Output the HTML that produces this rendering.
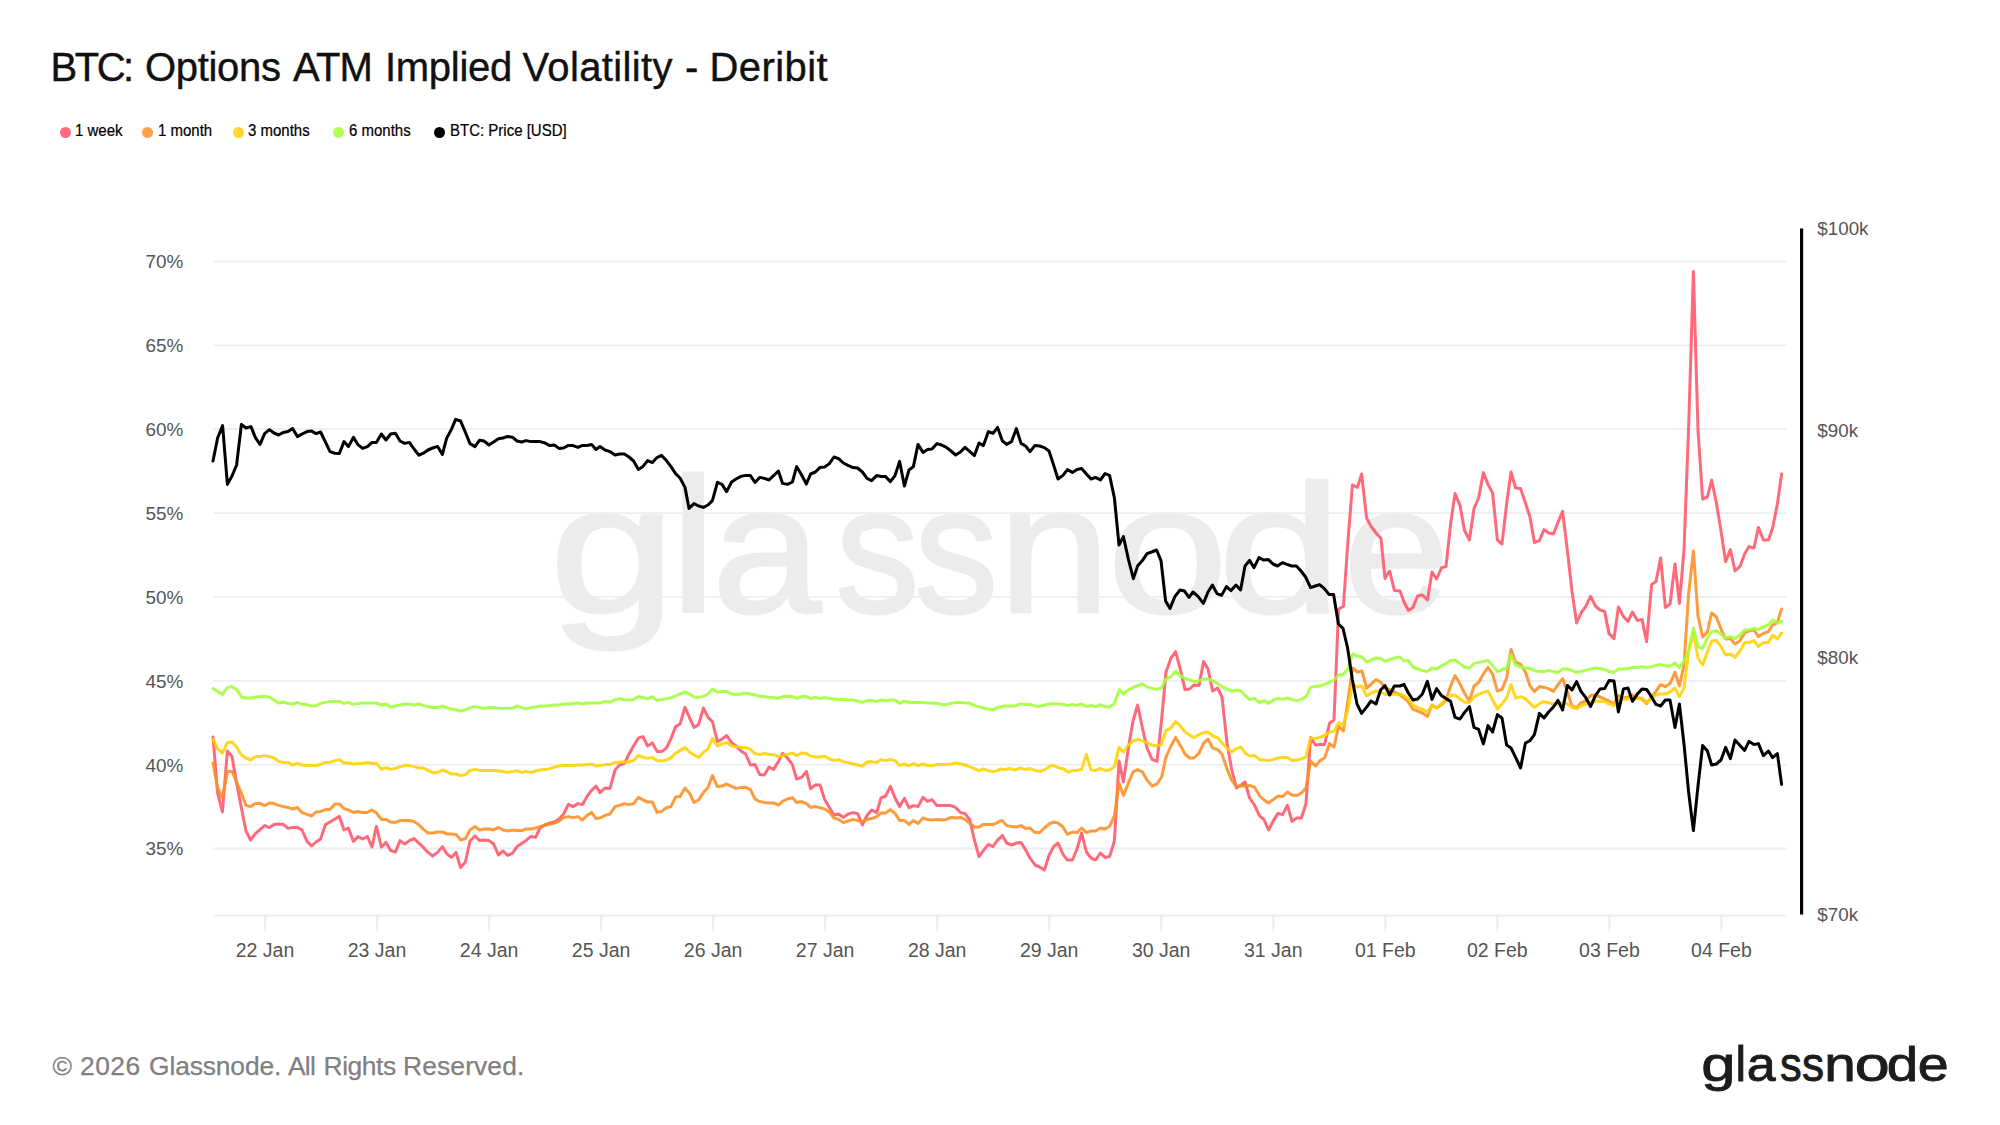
<!DOCTYPE html>
<html lang="en"><head><meta charset="utf-8"><title>BTC: Options ATM Implied Volatility - Deribit</title>
<style>
html,body{margin:0;padding:0;background:#fff;}
body{width:2000px;height:1125px;position:relative;overflow:hidden;font-family:"Liberation Sans",sans-serif;}
.title{position:absolute;left:50px;top:42.8px;-webkit-text-stroke:0.4px #111;font-size:40px;line-height:48px;color:#111;white-space:nowrap;letter-spacing:0px;}
.title span{position:absolute;top:0;}
.foot span{position:absolute;top:0;}
.dot{position:absolute;top:127.1px;width:10.8px;height:10.8px;margin-left:-0.3px;border-radius:50%;}
.lt{position:absolute;top:122px;-webkit-text-stroke:0.2px #000;transform:scaleY(1.13);transform-origin:0 100%;font-size:15px;line-height:20px;color:#000;white-space:nowrap;}
.chart{position:absolute;left:0;top:0;}
.ax{font-family:"Liberation Sans",sans-serif;font-size:19.5px;fill:#555;}
.ay{font-size:18.9px;}
.ar{font-size:18.8px;}
.wmg{opacity:0.07;}
.wmk{font-family:"Liberation Sans",sans-serif;font-size:187px;fill:#000;stroke:#000;stroke-width:3px;stroke-linejoin:round;}
.lg{font-family:"Liberation Sans",sans-serif;font-size:49px;fill:#1c1c1c;stroke:#1c1c1c;stroke-width:0.9px;stroke-linejoin:round;}
.foot{position:absolute;left:52px;top:1050px;-webkit-text-stroke:0.25px #808080;font-size:26.4px;line-height:32px;color:#808080;white-space:nowrap;}
</style></head><body>
<div class="title"><span style="left:0.6px;letter-spacing:-2.53px">BTC:</span> <span style="left:95.0px;letter-spacing:-0.31px">Options</span> <span style="left:243.0px;letter-spacing:-0.82px">ATM</span> <span style="left:335.0px;letter-spacing:-0.28px">Implied</span> <span style="left:472.5px;letter-spacing:0.36px">Volatility</span> <span style="left:635.0px;letter-spacing:0px">-</span> <span style="left:659.5px;letter-spacing:0.42px">Deribit</span></div>
<span class="dot" style="left:60.0px;background:#ff6b7c"></span><span class="lt" style="left:75px">1 week</span><span class="dot" style="left:142.5px;background:#ffa04d"></span><span class="lt" style="left:158px">1 month</span><span class="dot" style="left:233.5px;background:#ffd632"></span><span class="lt" style="left:248px">3 months</span><span class="dot" style="left:333.5px;background:#afff55"></span><span class="lt" style="left:349px">6 months</span><span class="dot" style="left:434.5px;background:#000"></span><span class="lt" style="left:450px">BTC: Price [USD]</span>
<svg class="chart" width="2000" height="1125" viewBox="0 0 2000 1125">
<g class="wmg"><text aria-label="glassnode" class="wmk" transform="matrix(1 0 0 0.9750 0 15.290)" y="611.60"><tspan x="549.48" textLength="126.14" lengthAdjust="spacingAndGlyphs">g</tspan><tspan font-size="195.4" x="670.01" textLength="46.13" lengthAdjust="spacingAndGlyphs">l</tspan><tspan x="711.92" textLength="109.08" lengthAdjust="spacingAndGlyphs">a</tspan><tspan x="835.57" textLength="84.00" lengthAdjust="spacingAndGlyphs">s</tspan><tspan x="914.32" textLength="84.00" lengthAdjust="spacingAndGlyphs">s</tspan><tspan x="998.10" textLength="112.26" lengthAdjust="spacingAndGlyphs">n</tspan><tspan x="1107.43" textLength="120.14" lengthAdjust="spacingAndGlyphs">o</tspan><tspan x="1218.19" textLength="123.36" lengthAdjust="spacingAndGlyphs">d</tspan><tspan x="1343.40" textLength="106.08" lengthAdjust="spacingAndGlyphs">e</tspan></text></g>
<line x1="213.3" x2="1786.6" y1="261.5" y2="261.5" stroke="#edeef3" stroke-width="1.8"/>
<line x1="213.3" x2="1786.6" y1="345.4" y2="345.4" stroke="#edeef3" stroke-width="1.8"/>
<line x1="213.3" x2="1786.6" y1="429.2" y2="429.2" stroke="#edeef3" stroke-width="1.8"/>
<line x1="213.3" x2="1786.6" y1="513.1" y2="513.1" stroke="#edeef3" stroke-width="1.8"/>
<line x1="213.3" x2="1786.6" y1="596.9" y2="596.9" stroke="#edeef3" stroke-width="1.8"/>
<line x1="213.3" x2="1786.6" y1="680.8" y2="680.8" stroke="#edeef3" stroke-width="1.8"/>
<line x1="213.3" x2="1786.6" y1="764.7" y2="764.7" stroke="#edeef3" stroke-width="1.8"/>
<line x1="213.3" x2="1786.6" y1="848.5" y2="848.5" stroke="#edeef3" stroke-width="1.8"/>
<line x1="213.3" x2="1786.6" y1="915.6" y2="915.6" stroke="#ebecf2" stroke-width="1.8"/>
<line x1="265.0" x2="265.0" y1="915.6" y2="931.4" stroke="#ebecf2" stroke-width="1.8"/>
<line x1="377.0" x2="377.0" y1="915.6" y2="931.4" stroke="#ebecf2" stroke-width="1.8"/>
<line x1="489.1" x2="489.1" y1="915.6" y2="931.4" stroke="#ebecf2" stroke-width="1.8"/>
<line x1="601.1" x2="601.1" y1="915.6" y2="931.4" stroke="#ebecf2" stroke-width="1.8"/>
<line x1="713.1" x2="713.1" y1="915.6" y2="931.4" stroke="#ebecf2" stroke-width="1.8"/>
<line x1="825.1" x2="825.1" y1="915.6" y2="931.4" stroke="#ebecf2" stroke-width="1.8"/>
<line x1="937.2" x2="937.2" y1="915.6" y2="931.4" stroke="#ebecf2" stroke-width="1.8"/>
<line x1="1049.2" x2="1049.2" y1="915.6" y2="931.4" stroke="#ebecf2" stroke-width="1.8"/>
<line x1="1161.2" x2="1161.2" y1="915.6" y2="931.4" stroke="#ebecf2" stroke-width="1.8"/>
<line x1="1273.3" x2="1273.3" y1="915.6" y2="931.4" stroke="#ebecf2" stroke-width="1.8"/>
<line x1="1385.3" x2="1385.3" y1="915.6" y2="931.4" stroke="#ebecf2" stroke-width="1.8"/>
<line x1="1497.3" x2="1497.3" y1="915.6" y2="931.4" stroke="#ebecf2" stroke-width="1.8"/>
<line x1="1609.4" x2="1609.4" y1="915.6" y2="931.4" stroke="#ebecf2" stroke-width="1.8"/>
<line x1="1721.4" x2="1721.4" y1="915.6" y2="931.4" stroke="#ebecf2" stroke-width="1.8"/>
<path d="M213.0 737.0 L217.6 793.0 L222.4 812.0 L227.4 751.0 L232.0 756.6 L236.6 783.0 L241.4 808.0 L246.0 831.0 L250.6 840.0 L255.4 833.6 L260.0 829.6 L264.6 825.6 L269.4 827.6 L274.0 824.4 L278.6 824.0 L283.4 824.4 L288.0 828.4 L292.6 827.4 L297.4 827.4 L302.0 830.0 L307.0 841.4 L311.6 846.0 L316.0 842.0 L320.6 839.0 L325.4 824.6 L330.0 822.0 L335.0 819.0 L339.4 816.4 L344.0 830.0 L348.4 828.0 L353.4 841.4 L358.0 836.6 L362.6 839.0 L367.4 836.6 L372.0 847.0 L376.4 826.4 L381.4 847.0 L386.0 842.4 L390.6 850.4 L395.4 852.0 L400.0 840.6 L404.6 844.0 L409.4 840.6 L414.0 838.6 L419.0 843.4 L423.4 847.4 L428.0 852.4 L432.6 856.0 L437.6 852.4 L442.4 846.6 L447.0 854.0 L451.4 857.4 L456.0 852.4 L460.6 867.6 L465.4 862.0 L470.0 841.0 L475.0 836.0 L479.6 840.6 L484.0 840.0 L489.0 840.6 L493.6 844.0 L498.4 855.0 L503.0 851.0 L507.6 855.4 L512.4 853.4 L517.0 846.6 L521.6 843.4 L526.0 840.4 L531.0 836.4 L535.6 837.4 L540.0 828.0 L545.0 825.0 L549.6 823.0 L554.4 822.0 L559.0 819.0 L563.6 814.0 L568.4 804.4 L573.0 806.6 L578.0 803.6 L582.4 804.6 L587.0 796.4 L591.6 790.4 L596.0 786.0 L600.0 792.6 L605.0 788.0 L610.0 788.4 L615.0 770.0 L619.6 765.0 L624.4 763.4 L629.0 754.0 L633.6 746.0 L638.4 738.0 L643.0 736.6 L647.6 746.0 L652.4 743.0 L657.0 751.4 L661.6 751.6 L666.4 748.0 L671.0 738.6 L675.6 726.6 L680.0 724.0 L685.0 707.4 L689.6 718.0 L694.0 727.4 L698.6 724.4 L703.4 708.0 L708.0 717.4 L712.4 721.6 L717.4 741.6 L722.0 739.0 L726.6 735.6 L731.6 742.6 L736.0 746.0 L741.0 751.0 L745.6 754.0 L750.4 765.0 L755.0 764.6 L759.6 774.4 L764.4 775.0 L769.0 767.0 L773.6 769.4 L778.4 761.6 L782.6 753.4 L787.4 758.0 L792.4 764.6 L796.6 779.0 L801.6 777.4 L806.4 771.4 L810.6 788.6 L815.4 785.0 L820.0 785.0 L824.6 799.4 L829.4 807.4 L834.0 815.0 L838.6 814.0 L843.4 817.4 L848.0 814.0 L853.0 812.6 L857.6 813.6 L862.4 825.0 L867.0 815.4 L871.6 810.0 L876.6 812.6 L881.0 798.0 L885.6 796.0 L890.4 786.4 L895.0 798.0 L899.6 806.6 L904.4 798.4 L909.0 807.6 L913.4 805.6 L918.0 806.6 L923.0 797.4 L927.6 801.4 L932.0 799.6 L937.0 805.6 L941.6 805.6 L946.4 805.6 L951.0 805.6 L955.6 807.4 L960.4 812.6 L965.0 813.6 L969.6 819.4 L974.4 840.0 L979.0 856.6 L983.4 850.6 L988.4 844.4 L993.0 846.6 L997.6 840.0 L1000.0 838.0 L1002.4 835.4 L1006.6 843.0 L1011.6 845.0 L1016.4 843.0 L1021.0 842.4 L1025.6 850.0 L1030.0 858.0 L1035.0 865.0 L1039.6 867.0 L1044.4 870.0 L1049.0 855.4 L1053.6 846.6 L1058.0 843.0 L1063.0 854.4 L1067.4 860.0 L1072.4 860.0 L1077.0 849.0 L1081.6 833.0 L1086.4 852.0 L1091.0 858.0 L1095.6 860.0 L1100.4 853.0 L1105.0 857.4 L1109.6 856.6 L1114.4 841.0 L1119.0 761.0 L1123.4 782.0 L1128.4 748.0 L1133.0 721.0 L1137.6 705.0 L1142.4 728.0 L1147.0 748.0 L1152.0 759.4 L1157.0 761.4 L1161.6 720.0 L1166.0 672.0 L1171.0 658.0 L1175.6 651.6 L1180.0 668.0 L1185.0 689.6 L1189.6 689.0 L1194.0 685.0 L1199.0 685.4 L1203.6 661.4 L1208.0 669.0 L1212.6 691.0 L1217.6 688.0 L1222.0 697.0 L1227.0 743.0 L1231.6 769.0 L1236.4 788.0 L1241.0 785.0 L1245.0 782.0 L1249.6 798.0 L1254.4 805.0 L1259.4 815.6 L1264.0 819.6 L1268.6 830.0 L1273.4 820.6 L1278.0 813.4 L1282.6 814.6 L1287.4 805.4 L1292.0 821.4 L1296.6 818.0 L1301.4 818.0 L1306.0 803.4 L1310.6 737.4 L1315.4 745.0 L1320.0 744.4 L1324.6 744.4 L1329.6 723.0 L1334.0 720.0 L1338.6 609.0 L1343.4 606.5 L1347.6 546.0 L1352.4 485.0 L1357.4 487.4 L1361.6 474.0 L1366.6 518.0 L1371.4 527.0 L1376.0 533.0 L1381.0 538.6 L1385.0 578.4 L1389.6 571.0 L1394.4 590.6 L1400.0 591.0 L1404.0 602.0 L1408.4 610.4 L1413.0 607.4 L1417.6 596.0 L1422.4 595.0 L1427.4 600.0 L1432.0 572.0 L1436.6 579.0 L1441.4 568.0 L1446.0 566.4 L1450.6 524.0 L1455.0 493.6 L1460.0 505.4 L1464.4 530.0 L1469.4 540.0 L1474.0 508.6 L1478.6 498.0 L1483.4 472.6 L1488.0 484.4 L1492.6 493.0 L1497.4 540.0 L1502.0 544.0 L1506.6 504.0 L1511.0 472.0 L1515.6 488.0 L1520.6 488.6 L1525.4 503.0 L1530.0 517.0 L1534.4 542.6 L1539.4 540.6 L1544.0 529.6 L1548.6 533.0 L1553.4 534.0 L1558.0 522.4 L1562.6 511.4 L1567.4 550.6 L1572.0 591.4 L1576.6 623.0 L1581.0 613.0 L1585.6 606.6 L1590.6 596.4 L1595.4 606.0 L1600.0 610.0 L1604.6 611.4 L1609.0 633.6 L1614.0 638.6 L1618.4 607.0 L1623.4 616.4 L1628.0 621.4 L1632.4 612.0 L1637.4 620.6 L1642.0 619.4 L1646.6 641.6 L1651.6 584.4 L1656.0 581.6 L1660.6 558.0 L1665.4 607.6 L1670.0 604.0 L1675.0 564.0 L1679.4 603.4 L1684.0 550.0 L1688.7 425.0 L1693.4 271.6 L1698.0 430.0 L1702.6 499.0 L1707.4 497.0 L1711.6 480.0 L1716.4 503.0 L1721.0 531.0 L1725.6 561.6 L1730.4 549.6 L1735.0 571.0 L1740.0 566.4 L1744.6 554.0 L1749.0 546.6 L1754.0 548.0 L1758.4 527.4 L1763.4 540.0 L1768.4 540.0 L1772.6 528.0 L1777.4 504.0 L1781.6 474.0" fill="none" stroke="#ff5468" stroke-width="3" stroke-linejoin="round" stroke-linecap="round" stroke-opacity="0.88"/>
<path d="M213.0 763.0 L217.6 788.0 L222.4 798.0 L227.4 771.4 L232.0 771.4 L236.6 782.0 L241.4 793.0 L246.0 805.4 L250.6 806.6 L255.4 803.4 L260.0 803.4 L264.6 805.6 L269.4 803.0 L274.0 803.6 L278.6 805.4 L283.4 806.6 L288.0 807.4 L292.6 809.0 L297.4 807.4 L302.0 812.6 L307.0 814.4 L311.6 816.0 L316.0 812.0 L320.6 811.4 L325.4 809.6 L330.0 809.6 L335.0 804.0 L339.4 804.0 L344.0 808.6 L348.4 810.0 L353.4 812.4 L358.0 811.6 L362.6 812.4 L367.4 812.4 L372.0 810.0 L376.4 813.0 L381.4 819.4 L386.0 819.4 L390.6 822.0 L395.4 822.4 L400.0 820.6 L404.6 820.6 L409.4 820.6 L414.0 821.4 L419.0 825.0 L423.4 829.4 L428.0 833.0 L432.6 833.0 L437.6 832.0 L442.4 832.0 L447.0 834.0 L451.4 834.0 L456.0 834.4 L460.6 840.0 L465.4 838.6 L470.0 830.0 L475.0 826.6 L479.6 830.0 L484.0 829.0 L489.0 829.0 L493.6 830.0 L498.4 827.4 L503.0 830.0 L507.6 831.0 L512.4 830.0 L517.0 830.6 L521.6 830.6 L526.0 829.0 L531.0 829.0 L535.6 828.0 L540.0 826.6 L545.0 825.0 L549.6 824.0 L554.4 823.0 L559.0 821.0 L563.6 817.6 L568.4 816.6 L573.0 817.6 L578.0 816.6 L582.4 820.0 L587.0 815.4 L591.6 812.4 L596.0 818.6 L600.0 818.0 L605.0 815.4 L610.0 814.0 L615.0 806.6 L619.6 805.4 L624.4 803.6 L629.0 804.6 L633.6 803.6 L638.4 797.4 L643.0 800.0 L647.6 802.0 L652.4 802.0 L657.0 812.4 L661.6 811.4 L666.4 807.6 L671.0 806.6 L675.6 797.0 L680.0 796.6 L685.0 788.0 L689.6 793.4 L694.0 802.4 L698.6 800.0 L703.4 792.6 L708.0 787.4 L712.4 775.6 L717.4 786.6 L722.0 786.0 L726.6 784.0 L731.6 786.4 L736.0 788.4 L741.0 787.4 L745.6 787.4 L750.4 789.6 L755.0 799.0 L759.6 801.6 L764.4 802.4 L769.0 803.0 L773.6 803.0 L778.4 805.0 L782.6 801.4 L787.4 799.0 L792.4 797.6 L796.6 802.4 L801.6 801.6 L806.4 803.6 L810.6 807.4 L815.4 806.6 L820.0 807.6 L824.6 809.0 L829.4 812.0 L834.0 818.0 L838.6 819.4 L843.4 822.6 L848.0 821.0 L853.0 819.4 L857.6 820.6 L862.4 821.6 L867.0 819.4 L871.6 818.6 L876.6 816.6 L881.0 813.0 L885.6 813.0 L890.4 809.6 L895.0 813.4 L899.6 820.4 L904.4 820.6 L909.0 824.4 L913.4 820.6 L918.0 823.4 L923.0 818.0 L927.6 819.6 L932.0 820.0 L937.0 819.4 L941.6 820.0 L946.4 819.4 L951.0 817.4 L955.6 818.0 L960.4 817.4 L965.0 819.4 L969.6 823.4 L974.4 827.0 L979.0 827.0 L983.4 824.4 L988.4 824.4 L993.0 824.4 L997.6 822.6 L1000.0 821.0 L1002.4 820.6 L1006.6 825.6 L1011.6 826.6 L1016.4 827.0 L1021.0 825.6 L1025.6 828.4 L1030.0 828.0 L1035.0 832.6 L1039.6 832.6 L1044.4 828.0 L1049.0 824.0 L1053.6 822.0 L1058.0 823.0 L1063.0 827.0 L1067.4 834.4 L1072.4 832.0 L1077.0 832.6 L1081.6 828.0 L1086.4 832.6 L1091.0 831.0 L1095.6 831.0 L1100.4 828.0 L1105.0 829.0 L1109.6 826.4 L1114.4 816.0 L1119.0 783.0 L1123.4 795.6 L1128.4 783.0 L1133.0 772.0 L1137.6 769.6 L1142.4 772.0 L1147.0 780.0 L1152.0 786.0 L1157.0 784.0 L1161.6 777.0 L1166.0 757.0 L1171.0 746.0 L1175.6 737.4 L1180.0 745.0 L1185.0 754.0 L1189.6 758.0 L1194.0 758.0 L1199.0 753.0 L1203.6 743.4 L1208.0 739.0 L1212.6 748.0 L1217.6 749.6 L1222.0 754.0 L1227.0 769.0 L1231.6 780.0 L1236.4 786.6 L1241.0 786.0 L1245.6 786.0 L1250.0 785.6 L1254.4 787.0 L1259.4 795.6 L1264.0 800.0 L1268.6 803.0 L1273.4 799.4 L1278.0 796.0 L1282.6 796.6 L1287.4 792.0 L1292.0 795.0 L1296.6 795.6 L1301.4 793.0 L1306.0 788.0 L1310.6 761.0 L1315.4 766.0 L1320.0 760.6 L1324.6 758.0 L1329.6 743.6 L1334.0 747.0 L1338.6 726.0 L1343.4 731.0 L1348.0 700.0 L1352.6 668.0 L1357.4 672.0 L1362.0 671.0 L1366.6 688.0 L1371.4 684.0 L1376.0 679.6 L1380.6 682.0 L1385.4 688.0 L1390.0 690.0 L1394.6 692.0 L1400.0 695.0 L1404.0 698.0 L1408.4 702.0 L1413.0 709.4 L1417.6 711.0 L1422.4 713.0 L1427.4 716.4 L1432.0 705.0 L1436.6 708.0 L1441.4 705.0 L1446.0 700.0 L1450.6 686.0 L1455.0 675.6 L1460.0 684.0 L1464.4 693.0 L1469.4 701.0 L1474.0 686.0 L1478.6 682.4 L1483.4 674.0 L1488.0 667.4 L1492.6 674.0 L1497.4 691.0 L1502.0 689.4 L1506.6 678.0 L1511.0 649.6 L1515.6 662.0 L1520.6 664.4 L1525.4 672.0 L1530.0 686.0 L1534.4 691.6 L1539.4 686.6 L1544.0 687.4 L1548.6 688.6 L1553.4 691.4 L1558.0 684.6 L1562.6 678.6 L1567.4 692.0 L1572.0 706.0 L1576.6 708.0 L1581.0 702.6 L1585.6 701.0 L1590.6 695.6 L1595.4 695.0 L1600.0 697.0 L1604.6 699.0 L1609.0 701.0 L1614.0 704.0 L1618.4 695.6 L1623.4 698.0 L1628.0 697.0 L1632.4 695.0 L1637.4 697.6 L1642.0 699.0 L1646.6 703.6 L1651.6 697.0 L1656.0 691.4 L1660.6 684.6 L1665.4 686.6 L1670.0 683.6 L1675.0 672.4 L1679.4 686.0 L1684.0 665.0 L1688.6 594.0 L1693.4 551.0 L1698.0 616.0 L1702.6 637.0 L1707.4 632.0 L1711.6 613.0 L1716.4 617.0 L1721.0 629.0 L1725.6 639.0 L1730.4 638.6 L1735.0 644.0 L1740.0 640.6 L1744.6 633.0 L1749.0 631.0 L1754.0 630.0 L1758.4 636.6 L1763.4 633.4 L1768.4 631.6 L1772.6 625.0 L1777.4 622.4 L1781.6 609.0" fill="none" stroke="#ff8d21" stroke-width="3" stroke-linejoin="round" stroke-linecap="round" stroke-opacity="0.88"/>
<path d="M213.0 739.0 L217.6 749.0 L222.4 753.0 L227.4 742.4 L232.0 742.0 L236.6 747.0 L241.4 755.0 L246.0 758.0 L250.6 760.0 L255.4 756.6 L260.0 756.6 L264.6 755.6 L269.4 756.6 L274.0 758.0 L278.6 761.4 L283.4 762.4 L288.0 762.4 L292.6 765.0 L297.4 763.4 L302.0 765.0 L307.0 765.6 L311.6 765.6 L316.0 765.6 L320.6 764.4 L325.4 762.4 L330.0 762.4 L335.0 760.6 L339.4 759.6 L344.0 763.0 L348.4 763.0 L353.4 764.0 L358.0 763.4 L362.6 763.4 L367.4 762.6 L372.0 763.4 L376.4 763.4 L381.4 769.4 L386.0 767.6 L390.6 769.4 L395.4 768.4 L400.0 766.6 L404.6 765.6 L409.4 765.6 L414.0 766.6 L419.0 768.0 L423.4 768.0 L428.0 770.4 L432.6 772.4 L437.6 772.4 L442.4 770.0 L447.0 771.6 L451.4 774.0 L456.0 774.0 L460.6 775.6 L465.4 774.6 L470.0 770.4 L475.0 769.4 L479.6 770.4 L484.0 770.4 L489.0 770.4 L493.6 770.4 L498.4 771.0 L503.0 771.6 L507.6 772.4 L512.4 771.6 L517.0 770.6 L521.6 772.4 L526.0 771.4 L531.0 772.6 L535.6 771.0 L540.0 770.0 L545.0 769.6 L549.6 768.6 L554.4 767.0 L559.0 766.0 L563.6 765.6 L568.4 765.6 L573.0 765.6 L578.0 765.0 L582.4 765.0 L587.0 764.6 L591.6 764.0 L596.0 766.0 L600.0 765.6 L605.0 764.6 L610.0 764.4 L615.0 762.6 L619.6 762.0 L624.4 762.0 L629.0 762.0 L633.6 760.6 L638.4 755.4 L643.0 757.4 L647.6 758.4 L652.4 757.4 L657.0 760.6 L661.6 761.0 L666.4 760.0 L671.0 758.0 L675.6 753.0 L680.0 750.6 L685.0 747.6 L689.6 752.0 L694.0 755.0 L698.6 757.4 L703.4 752.4 L708.0 749.0 L712.4 738.6 L717.4 746.0 L722.0 744.0 L726.6 742.6 L731.6 746.0 L736.0 746.6 L741.0 747.4 L745.6 747.4 L750.4 749.4 L755.0 753.6 L759.6 754.4 L764.4 753.6 L769.0 754.4 L773.6 754.6 L778.4 756.6 L782.6 755.6 L787.4 754.4 L792.4 753.0 L796.6 755.6 L801.6 753.0 L806.4 753.6 L810.6 756.0 L815.4 757.0 L820.0 757.0 L824.6 756.0 L829.4 759.0 L834.0 760.6 L838.6 759.6 L843.4 761.6 L848.0 762.6 L853.0 764.0 L857.6 765.0 L862.4 766.0 L867.0 762.0 L871.6 761.6 L876.6 762.6 L881.0 759.6 L885.6 760.6 L890.4 759.4 L895.0 760.6 L899.6 765.6 L904.4 764.0 L909.0 765.6 L913.4 763.6 L918.0 765.6 L923.0 764.0 L927.6 765.6 L932.0 765.6 L937.0 764.6 L941.6 764.6 L946.4 764.6 L951.0 764.0 L955.6 763.0 L960.4 764.0 L965.0 765.0 L969.6 766.6 L974.4 768.6 L979.0 770.6 L983.4 769.0 L988.4 770.6 L993.0 771.6 L997.6 770.6 L1000.0 769.0 L1005.0 769.4 L1010.0 768.6 L1015.0 770.0 L1020.0 768.0 L1025.0 769.4 L1030.0 768.6 L1035.0 770.4 L1040.0 771.4 L1045.0 769.6 L1050.0 766.0 L1054.0 765.6 L1059.0 768.0 L1064.0 769.0 L1068.0 772.4 L1072.4 770.4 L1077.0 770.4 L1081.6 769.4 L1086.4 754.4 L1091.0 770.0 L1095.6 770.6 L1100.0 768.4 L1105.0 770.4 L1109.6 770.0 L1114.4 766.6 L1119.0 747.4 L1123.4 752.0 L1128.4 745.0 L1133.0 741.0 L1138.0 739.4 L1142.4 740.6 L1147.0 743.0 L1152.0 745.0 L1157.0 746.0 L1161.6 744.4 L1166.0 730.6 L1171.0 728.0 L1175.6 721.6 L1180.0 725.4 L1185.0 732.0 L1189.6 735.0 L1194.0 737.6 L1199.0 734.6 L1204.0 732.4 L1208.0 732.0 L1213.0 736.0 L1218.0 738.0 L1222.4 743.6 L1227.0 748.0 L1231.6 752.0 L1236.4 748.6 L1241.0 747.0 L1245.6 753.6 L1250.0 756.0 L1254.4 755.4 L1259.4 759.4 L1264.0 760.0 L1268.6 760.4 L1273.4 759.4 L1278.0 758.0 L1282.6 757.6 L1287.4 757.6 L1292.0 760.6 L1296.6 760.0 L1301.4 759.0 L1306.0 756.6 L1310.6 738.0 L1315.4 738.6 L1320.0 737.4 L1324.6 735.4 L1329.6 732.0 L1334.0 731.4 L1338.6 722.6 L1343.4 725.0 L1348.0 709.0 L1352.6 684.0 L1357.4 687.0 L1362.0 686.0 L1366.6 696.0 L1371.4 693.0 L1376.0 691.0 L1380.6 692.0 L1385.4 694.4 L1390.0 694.4 L1394.6 694.4 L1400.0 694.0 L1404.0 695.6 L1408.4 699.0 L1413.0 705.4 L1417.6 707.4 L1422.4 709.4 L1427.4 712.0 L1432.0 705.6 L1436.6 708.0 L1441.4 704.0 L1446.0 698.6 L1450.6 695.6 L1455.0 695.0 L1460.0 699.0 L1464.4 702.0 L1469.4 702.4 L1474.0 697.0 L1478.6 694.4 L1483.4 692.4 L1488.0 691.0 L1492.6 700.0 L1497.4 709.0 L1502.0 704.0 L1506.6 698.0 L1511.0 684.6 L1515.6 698.0 L1520.6 696.6 L1525.4 698.6 L1530.0 703.4 L1534.4 707.4 L1539.4 703.6 L1544.0 701.6 L1548.6 702.6 L1553.4 704.0 L1558.0 704.4 L1562.6 702.4 L1567.4 704.0 L1572.0 707.0 L1576.6 708.6 L1581.0 706.0 L1585.6 704.0 L1590.6 702.0 L1595.4 701.0 L1600.0 701.4 L1604.6 701.4 L1609.0 704.0 L1614.0 705.6 L1618.4 699.0 L1623.4 699.4 L1628.0 699.0 L1632.4 698.0 L1637.4 698.6 L1642.0 698.0 L1646.6 702.4 L1651.6 698.6 L1656.0 695.0 L1660.6 694.0 L1665.4 694.0 L1670.0 692.0 L1675.0 688.0 L1679.4 696.6 L1684.0 688.0 L1688.6 652.0 L1693.4 633.0 L1698.0 658.0 L1702.6 665.0 L1707.4 652.0 L1711.6 641.0 L1716.4 640.6 L1721.0 646.6 L1725.6 655.0 L1730.4 654.0 L1735.0 657.4 L1740.0 651.0 L1744.6 642.6 L1749.0 642.6 L1754.0 640.6 L1758.4 646.6 L1763.4 642.6 L1768.4 642.6 L1772.6 635.0 L1777.4 639.0 L1781.6 633.0" fill="none" stroke="#ffd200" stroke-width="3" stroke-linejoin="round" stroke-linecap="round" stroke-opacity="0.88"/>
<path d="M213.0 688.6 L217.6 691.6 L222.4 694.4 L227.4 687.4 L231.6 686.6 L236.6 689.4 L241.4 697.0 L246.0 698.0 L251.0 698.0 L256.0 697.0 L260.0 696.4 L265.0 696.4 L269.4 697.4 L274.0 700.0 L278.6 703.0 L283.4 702.0 L288.0 703.6 L292.6 704.0 L297.4 702.4 L302.0 704.4 L307.0 704.6 L311.6 706.0 L316.0 706.0 L320.6 703.4 L325.4 702.4 L330.0 701.4 L335.0 701.4 L339.4 701.4 L344.0 703.4 L348.4 702.4 L353.4 704.4 L358.0 703.4 L362.6 703.0 L367.4 703.0 L372.0 703.0 L376.4 703.0 L381.4 705.0 L386.0 704.0 L390.6 707.0 L395.4 706.0 L400.0 705.0 L404.6 704.0 L409.4 704.0 L414.0 705.0 L419.0 704.0 L423.4 705.6 L428.0 706.6 L432.6 707.6 L437.6 707.6 L442.4 706.0 L447.0 707.6 L451.4 709.0 L456.0 710.0 L460.6 711.0 L465.4 710.0 L470.0 707.6 L475.0 706.6 L479.6 707.6 L484.0 708.4 L489.0 707.4 L493.6 707.4 L498.4 708.2 L503.0 708.4 L507.6 708.2 L512.4 708.2 L517.0 706.0 L521.6 707.6 L526.0 708.6 L531.0 707.6 L535.6 707.0 L540.0 706.0 L545.0 706.0 L549.6 705.6 L554.4 705.0 L559.0 704.8 L563.6 704.0 L568.4 704.0 L573.0 703.6 L578.0 703.0 L582.4 704.0 L587.0 703.0 L591.6 703.0 L596.0 703.0 L600.0 703.0 L605.0 701.4 L610.0 702.4 L615.0 699.6 L619.6 698.6 L624.4 700.0 L629.0 700.0 L633.6 699.6 L638.4 696.6 L643.0 697.4 L647.6 699.0 L652.4 696.6 L657.0 700.6 L661.6 699.6 L666.4 698.6 L671.0 697.6 L675.6 696.0 L680.0 694.0 L685.0 692.0 L689.6 694.0 L694.0 697.0 L698.6 697.4 L703.4 696.4 L708.0 694.0 L712.4 689.0 L717.4 692.0 L722.0 691.4 L726.6 691.4 L731.6 694.0 L736.0 694.4 L741.0 694.0 L745.6 693.0 L750.4 694.0 L755.0 695.0 L759.6 696.4 L764.4 696.6 L769.0 697.4 L773.6 697.6 L778.4 698.4 L782.6 696.6 L787.4 696.6 L792.4 696.6 L796.6 698.4 L801.6 696.6 L806.4 696.6 L810.6 698.4 L815.4 697.4 L820.0 698.4 L824.6 697.6 L829.4 698.4 L834.0 699.0 L838.6 699.6 L843.4 699.6 L848.0 700.0 L853.0 700.0 L857.6 701.0 L862.4 702.4 L867.0 700.6 L871.6 700.6 L876.6 701.6 L881.0 700.0 L885.6 701.0 L890.4 700.0 L895.0 700.0 L899.6 703.4 L904.4 701.0 L909.0 702.4 L913.4 702.6 L918.0 702.4 L923.0 702.6 L927.6 703.0 L932.0 703.0 L937.0 703.4 L941.6 704.4 L946.4 704.4 L951.0 703.4 L955.6 702.4 L960.4 702.6 L965.0 703.0 L969.6 703.0 L974.4 705.6 L979.0 706.6 L983.4 708.0 L988.4 709.0 L993.0 710.0 L997.6 707.4 L1000.0 707.0 L1005.0 706.0 L1010.0 706.0 L1015.0 706.0 L1020.0 704.0 L1025.0 704.4 L1030.0 704.4 L1035.0 706.0 L1040.0 706.4 L1045.0 705.0 L1050.0 703.6 L1055.0 704.0 L1060.0 704.0 L1068.0 705.4 L1072.0 704.4 L1077.0 705.4 L1081.0 704.0 L1087.0 706.6 L1091.0 705.4 L1096.0 706.6 L1100.0 704.6 L1105.0 706.6 L1109.6 707.0 L1114.4 703.6 L1119.4 689.6 L1123.4 694.0 L1128.4 690.0 L1133.0 687.6 L1138.0 685.4 L1142.4 684.0 L1147.0 687.0 L1152.0 688.4 L1157.0 689.4 L1161.6 687.6 L1166.0 679.0 L1171.0 676.6 L1175.6 671.0 L1180.0 675.6 L1185.0 678.4 L1189.6 680.0 L1194.4 681.6 L1199.0 680.6 L1204.0 679.0 L1208.4 679.0 L1213.0 681.0 L1218.0 684.0 L1222.4 687.0 L1227.0 689.0 L1231.6 691.0 L1236.4 690.0 L1241.0 691.0 L1245.6 696.0 L1250.0 699.6 L1254.4 698.4 L1259.4 702.6 L1264.0 700.6 L1268.6 703.4 L1273.4 700.0 L1278.0 698.4 L1282.6 699.4 L1287.4 698.0 L1292.0 699.6 L1296.6 700.6 L1301.4 699.4 L1306.0 696.6 L1310.6 687.4 L1315.4 686.4 L1320.0 686.0 L1324.6 684.4 L1329.6 682.0 L1334.0 680.0 L1338.6 675.0 L1343.4 674.4 L1348.0 668.0 L1352.6 654.0 L1357.4 656.0 L1362.0 657.0 L1366.6 662.0 L1371.4 660.0 L1376.0 658.0 L1380.6 658.4 L1385.4 661.4 L1390.0 659.4 L1394.6 658.0 L1400.0 657.0 L1404.0 661.0 L1408.4 660.6 L1413.0 667.0 L1417.6 669.0 L1422.4 670.6 L1427.4 671.6 L1432.0 668.0 L1436.6 669.0 L1441.4 666.0 L1446.0 663.6 L1450.6 660.4 L1455.0 660.0 L1460.0 663.6 L1464.4 667.0 L1469.4 668.0 L1474.0 663.6 L1478.6 662.4 L1483.4 661.4 L1488.0 660.6 L1492.6 665.6 L1497.4 671.6 L1502.0 669.6 L1506.6 668.0 L1511.0 655.0 L1515.6 665.0 L1520.6 667.0 L1525.4 668.0 L1530.0 668.6 L1534.4 670.6 L1539.4 671.6 L1544.0 671.6 L1548.6 670.4 L1553.4 671.6 L1558.0 672.4 L1562.6 669.0 L1567.4 669.0 L1572.0 670.6 L1576.6 672.4 L1581.0 671.6 L1585.6 670.4 L1590.6 669.0 L1595.4 668.0 L1600.0 668.4 L1604.6 669.6 L1609.0 671.6 L1614.0 672.4 L1618.4 669.0 L1623.4 669.0 L1628.0 668.6 L1632.4 667.4 L1637.4 667.4 L1642.0 666.6 L1646.6 667.6 L1651.6 666.6 L1656.0 665.4 L1660.6 664.4 L1665.4 666.0 L1670.0 666.0 L1675.0 663.0 L1679.4 667.6 L1684.0 661.0 L1688.6 650.0 L1693.4 628.0 L1698.0 647.0 L1702.6 648.4 L1707.4 638.0 L1711.6 631.4 L1716.4 631.0 L1721.0 634.0 L1725.6 638.0 L1730.4 636.6 L1735.0 638.6 L1740.0 635.0 L1744.6 630.0 L1749.0 630.0 L1754.0 628.6 L1758.4 629.4 L1763.4 626.6 L1768.4 625.0 L1772.6 620.0 L1777.4 623.4 L1781.6 621.0" fill="none" stroke="#a2ff37" stroke-width="3" stroke-linejoin="round" stroke-linecap="round" stroke-opacity="0.88"/>
<path d="M213.0 461.0 L217.6 438.0 L222.6 425.6 L227.4 484.4 L232.0 476.0 L236.6 465.0 L241.4 424.4 L246.0 428.0 L251.0 426.6 L255.4 437.6 L260.0 444.4 L264.6 433.6 L269.4 429.6 L274.0 433.0 L278.6 435.0 L283.4 432.4 L288.0 431.6 L292.6 428.6 L297.4 436.6 L302.0 434.0 L307.0 431.6 L311.6 431.0 L316.0 433.6 L320.6 432.0 L325.4 442.0 L330.0 451.6 L335.0 453.2 L339.4 453.4 L344.0 441.6 L348.4 446.6 L353.4 437.4 L358.0 444.6 L362.6 448.4 L367.4 446.6 L372.0 442.4 L376.4 442.4 L381.4 434.0 L386.0 440.0 L390.6 434.0 L395.4 433.2 L400.0 441.0 L404.6 443.4 L409.4 442.4 L414.0 449.0 L419.0 455.2 L423.4 453.2 L428.0 450.0 L432.6 448.0 L437.6 446.4 L442.4 454.4 L446.6 438.4 L451.4 429.4 L455.6 419.4 L460.6 421.0 L465.4 432.4 L470.0 443.6 L475.0 446.6 L479.6 440.2 L484.0 441.0 L489.0 445.0 L493.6 442.0 L498.4 438.8 L503.0 438.0 L507.6 436.4 L512.4 437.2 L517.0 441.0 L521.6 442.0 L526.0 440.6 L531.0 441.6 L535.6 441.6 L540.0 441.6 L545.0 443.0 L549.6 445.6 L554.4 445.0 L559.0 448.4 L563.6 448.0 L568.4 445.4 L573.0 445.6 L578.0 447.4 L582.4 445.4 L587.0 445.4 L591.6 444.6 L596.0 449.4 L600.0 446.6 L605.0 450.0 L610.0 451.6 L615.0 455.0 L619.6 454.0 L624.4 454.0 L629.0 457.0 L633.6 461.0 L638.4 469.4 L643.0 466.4 L647.6 460.6 L652.4 462.6 L657.0 457.6 L661.6 455.4 L666.4 460.6 L671.0 466.6 L675.6 473.6 L680.0 478.0 L685.0 487.4 L689.0 508.4 L694.0 503.6 L698.6 506.0 L703.4 507.4 L708.0 505.0 L712.4 500.6 L717.4 482.4 L722.0 484.4 L726.6 491.6 L731.6 482.0 L736.0 479.0 L741.0 476.4 L745.6 475.4 L750.4 475.6 L755.0 482.4 L759.6 477.4 L764.4 478.4 L769.0 480.0 L773.6 475.6 L778.4 471.0 L782.6 483.4 L787.4 484.4 L792.4 482.0 L796.6 466.6 L801.6 475.0 L806.4 484.0 L810.6 474.0 L815.4 472.0 L820.0 467.4 L824.6 467.0 L829.4 463.6 L834.0 457.0 L838.6 458.6 L843.4 463.0 L848.0 465.4 L853.0 467.6 L857.6 468.0 L862.4 472.0 L867.0 478.4 L871.6 480.6 L876.6 475.6 L881.0 476.4 L885.6 476.6 L890.4 481.6 L895.0 475.6 L899.6 461.4 L904.4 486.0 L909.0 470.0 L913.4 466.6 L918.0 444.4 L923.0 452.4 L927.6 449.4 L932.0 449.0 L937.0 443.6 L941.6 445.0 L946.4 447.4 L951.0 451.0 L955.6 455.0 L960.4 452.0 L965.0 447.4 L969.6 451.4 L974.4 455.6 L979.0 443.0 L983.4 445.6 L988.4 431.6 L993.0 433.4 L997.6 427.4 L1002.4 441.0 L1006.6 444.4 L1011.6 441.6 L1016.4 428.6 L1021.0 443.4 L1025.6 446.0 L1030.0 451.6 L1035.0 445.4 L1039.6 446.0 L1044.4 447.6 L1049.0 451.0 L1053.6 465.0 L1058.0 479.0 L1063.0 475.4 L1067.4 469.6 L1072.4 472.4 L1077.0 469.4 L1081.6 468.6 L1086.4 474.0 L1091.0 479.0 L1095.6 477.4 L1100.4 480.0 L1105.0 473.6 L1109.6 475.4 L1114.4 498.0 L1119.0 545.0 L1123.4 536.6 L1128.4 559.4 L1133.4 578.6 L1137.6 566.0 L1142.4 560.6 L1147.0 553.6 L1151.6 552.0 L1156.6 550.0 L1161.0 560.6 L1165.6 601.0 L1170.0 608.4 L1175.0 596.4 L1180.0 590.0 L1184.4 591.0 L1189.0 597.4 L1193.0 592.0 L1198.0 596.4 L1203.4 603.4 L1208.0 592.0 L1212.4 585.0 L1217.0 593.6 L1221.6 595.4 L1226.4 586.6 L1231.0 590.6 L1236.0 585.0 L1240.6 590.0 L1245.0 566.0 L1249.6 560.4 L1254.0 567.6 L1259.0 557.6 L1263.6 560.0 L1268.4 559.6 L1273.0 564.0 L1277.6 566.0 L1282.4 562.6 L1287.0 564.4 L1291.6 566.0 L1296.4 566.0 L1301.0 571.0 L1305.6 577.0 L1310.6 587.6 L1315.4 586.0 L1319.6 584.6 L1324.4 588.6 L1329.0 594.4 L1333.6 594.4 L1338.4 624.0 L1343.0 628.4 L1347.6 648.0 L1352.4 680.0 L1357.0 704.0 L1361.6 713.4 L1366.4 707.4 L1371.0 701.0 L1376.0 704.0 L1380.6 690.0 L1385.0 685.6 L1389.6 695.0 L1394.4 686.0 L1400.0 686.0 L1404.0 684.4 L1408.4 693.0 L1413.0 700.0 L1417.6 699.0 L1422.4 694.0 L1427.4 681.4 L1432.0 699.4 L1436.6 688.6 L1441.4 695.6 L1446.0 698.6 L1450.6 701.4 L1455.0 717.4 L1460.0 719.0 L1464.4 712.6 L1469.4 706.6 L1474.0 727.4 L1478.6 729.4 L1483.4 744.0 L1488.0 725.6 L1492.6 732.0 L1497.4 714.6 L1502.0 718.0 L1506.6 745.0 L1511.0 748.0 L1515.6 757.4 L1520.6 768.0 L1525.4 743.0 L1530.0 740.6 L1534.4 734.6 L1539.4 713.4 L1544.0 718.0 L1548.6 712.0 L1553.4 707.0 L1558.0 700.4 L1562.6 710.0 L1567.4 685.4 L1572.0 690.0 L1576.6 681.6 L1581.0 691.4 L1585.6 697.4 L1590.6 706.4 L1595.4 695.6 L1600.0 689.0 L1604.6 688.6 L1609.0 680.6 L1614.0 681.0 L1618.4 712.0 L1623.4 689.0 L1628.0 688.0 L1632.4 701.4 L1637.4 694.0 L1642.0 689.0 L1646.6 689.4 L1651.6 697.0 L1656.0 704.4 L1660.6 706.0 L1665.4 700.0 L1670.0 700.0 L1675.0 727.4 L1679.4 704.0 L1684.0 744.0 L1688.6 792.0 L1693.4 830.6 L1698.0 786.0 L1702.6 745.6 L1707.4 751.0 L1711.6 765.0 L1716.4 764.0 L1721.0 760.0 L1725.6 747.4 L1730.4 758.6 L1735.0 740.0 L1740.0 745.4 L1744.6 750.4 L1749.0 741.4 L1754.0 744.6 L1758.4 743.6 L1763.4 755.6 L1768.4 751.0 L1772.6 757.6 L1777.4 753.6 L1781.6 784.4" fill="none" stroke="#000000" stroke-width="3" stroke-linejoin="round" stroke-linecap="round" stroke-opacity="1"/>
<line x1="1801.6" x2="1801.6" y1="228.4" y2="914.6" stroke="#000" stroke-width="3.2"/>
<text class="ax ay" x="183.2" y="268.3" text-anchor="end">70%</text>
<text class="ax ay" x="183.2" y="352.2" text-anchor="end">65%</text>
<text class="ax ay" x="183.2" y="436.0" text-anchor="end">60%</text>
<text class="ax ay" x="183.2" y="519.9" text-anchor="end">55%</text>
<text class="ax ay" x="183.2" y="603.7" text-anchor="end">50%</text>
<text class="ax ay" x="183.2" y="687.6" text-anchor="end">45%</text>
<text class="ax ay" x="183.2" y="771.5" text-anchor="end">40%</text>
<text class="ax ay" x="183.2" y="855.3" text-anchor="end">35%</text>
<text class="ax" x="265.0" y="956.5" text-anchor="middle">22 Jan</text>
<text class="ax" x="377.0" y="956.5" text-anchor="middle">23 Jan</text>
<text class="ax" x="489.1" y="956.5" text-anchor="middle">24 Jan</text>
<text class="ax" x="601.1" y="956.5" text-anchor="middle">25 Jan</text>
<text class="ax" x="713.1" y="956.5" text-anchor="middle">26 Jan</text>
<text class="ax" x="825.1" y="956.5" text-anchor="middle">27 Jan</text>
<text class="ax" x="937.2" y="956.5" text-anchor="middle">28 Jan</text>
<text class="ax" x="1049.2" y="956.5" text-anchor="middle">29 Jan</text>
<text class="ax" x="1161.2" y="956.5" text-anchor="middle">30 Jan</text>
<text class="ax" x="1273.3" y="956.5" text-anchor="middle">31 Jan</text>
<text class="ax" x="1385.3" y="956.5" text-anchor="middle">01 Feb</text>
<text class="ax" x="1497.3" y="956.5" text-anchor="middle">02 Feb</text>
<text class="ax" x="1609.4" y="956.5" text-anchor="middle">03 Feb</text>
<text class="ax" x="1721.4" y="956.5" text-anchor="middle">04 Feb</text>
<text class="ax ar" x="1817.3" y="234.5">$100k</text>
<text class="ax ar" x="1817.3" y="436.5">$90k</text>
<text class="ax ar" x="1817.3" y="663.5">$80k</text>
<text class="ax ar" x="1817.3" y="921.0">$70k</text>
<g><text aria-label="glassnode" class="lg" transform="matrix(1 0 0 0.9850 0 16.220)" y="1081.30"><tspan x="1701.31" textLength="34.26" lengthAdjust="spacingAndGlyphs">g</tspan><tspan font-size="51.5" x="1735.53" textLength="10.62" lengthAdjust="spacingAndGlyphs">l</tspan><tspan x="1746.84" textLength="28.96" lengthAdjust="spacingAndGlyphs">a</tspan><tspan x="1780.04" textLength="21.67" lengthAdjust="spacingAndGlyphs">s</tspan><tspan x="1802.12" textLength="22.07" lengthAdjust="spacingAndGlyphs">s</tspan><tspan x="1824.28" textLength="31.55" lengthAdjust="spacingAndGlyphs">n</tspan><tspan x="1854.66" textLength="34.92" lengthAdjust="spacingAndGlyphs">o</tspan><tspan x="1886.78" textLength="31.41" lengthAdjust="spacingAndGlyphs">d</tspan><tspan x="1917.69" textLength="30.93" lengthAdjust="spacingAndGlyphs">e</tspan></text></g>
</svg>
<div class="foot"><span style="left:0.5px;letter-spacing:0px">©</span> <span style="left:28.0px;letter-spacing:0.49px">2026</span> <span style="left:97.0px;letter-spacing:-0.13px">Glassnode.</span> <span style="left:236.0px;letter-spacing:-0.73px">All</span> <span style="left:271.5px;letter-spacing:-0.42px">Rights</span> <span style="left:351.0px;letter-spacing:0.13px">Reserved.</span></div>
</body></html>
